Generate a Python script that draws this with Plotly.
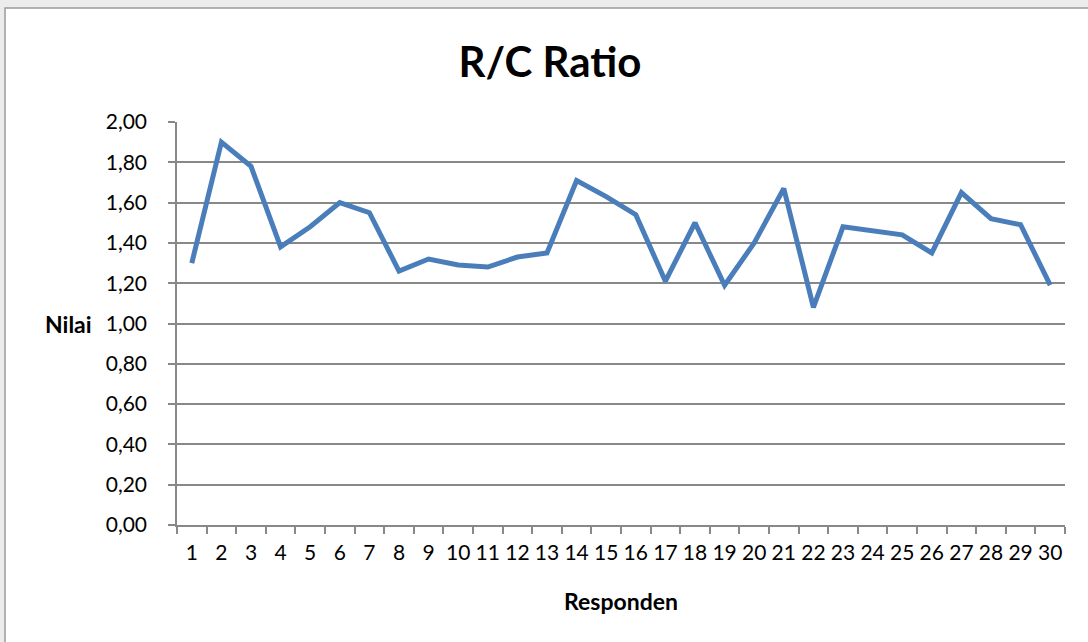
import plotly.graph_objects as go

responden = [str(i) for i in range(1, 31)]
nilai = [1.30, 1.90, 1.78, 1.38, 1.48, 1.60, 1.55, 1.26, 1.32, 1.29,
         1.28, 1.33, 1.35, 1.71, 1.63, 1.54, 1.21, 1.50, 1.19, 1.40,
         1.67, 1.08, 1.48, 1.46, 1.44, 1.35, 1.65, 1.52, 1.49, 1.19]
y_ticks = [0, 0.2, 0.4, 0.6, 0.8, 1.0, 1.2, 1.4, 1.6, 1.8, 2.0]

FONT = "Lato, Carlito, Calibri, sans-serif"
GRID = "#888888"

fig = go.Figure()
fig.add_trace(go.Scatter(
    x=responden, y=nilai, mode="lines",
    line=dict(color="#4a7ebb", width=5),
    showlegend=False, hoverinfo="x+y",
))

W, H = 1088, 642
L, R, T, B = 177, 23, 122, 117
pw, ph = W - L - R, H - T - B

def px(x):
    return (x - L) / pw

def py(y):
    return (H - B - y) / ph

fig.update_layout(
    width=W, height=H,
    margin=dict(l=L, r=R, t=T, b=B),
    paper_bgcolor="#ececec",
    plot_bgcolor="white",
    separators=",.",
    font=dict(family=FONT, color="black", size=21),
    title=dict(text="<b>R/C Ratio</b>", x=550 / W, xanchor="center",
               y=1 - 62 / H, yanchor="middle",
               font=dict(family=FONT, size=42, color="black")),
    xaxis=dict(
        type="category", range=[-0.5, 29.5],
        showgrid=False, showline=True, linecolor=GRID, linewidth=1.5,
        ticks="outside", tickson="boundaries", ticklen=7, tickcolor=GRID,
        tickwidth=1.5, tickfont=dict(family=FONT, size=21), tickangle=0,
        ticklabelstandoff=8,
    ),
    yaxis=dict(
        range=[0, 2.0], tickvals=y_ticks, tickformat=".2f",
        showgrid=True, gridcolor=GRID, gridwidth=1.6,
        showline=True, linecolor=GRID, linewidth=1.5,
        ticks="outside", ticklen=7, tickcolor=GRID, tickwidth=1.5,
        tickfont=dict(family=FONT, size=21), zeroline=False,
        ticklabelstandoff=17,
    ),
    shapes=[dict(type="rect", xref="paper", yref="paper",
                 x0=px(5), x1=px(1095), y0=py(650), y1=py(8),
                 line=dict(color="#9a9a9a", width=1.5),
                 fillcolor="white", layer="below")],
    annotations=[
        dict(text="<b>Nilai</b>", xref="paper", yref="paper",
             x=px(68), y=py(324), xanchor="center", yanchor="middle",
             showarrow=False, font=dict(family=FONT, size=23)),
        dict(text="<b>Responden</b>", xref="paper", yref="paper",
             x=px(621), y=py(601), xanchor="center", yanchor="middle",
             showarrow=False, font=dict(family=FONT, size=23)),
    ],
)

fig.write_html("out.html", config={"displayModeBar": False},
               post_script="document.body.style.margin='0';")
